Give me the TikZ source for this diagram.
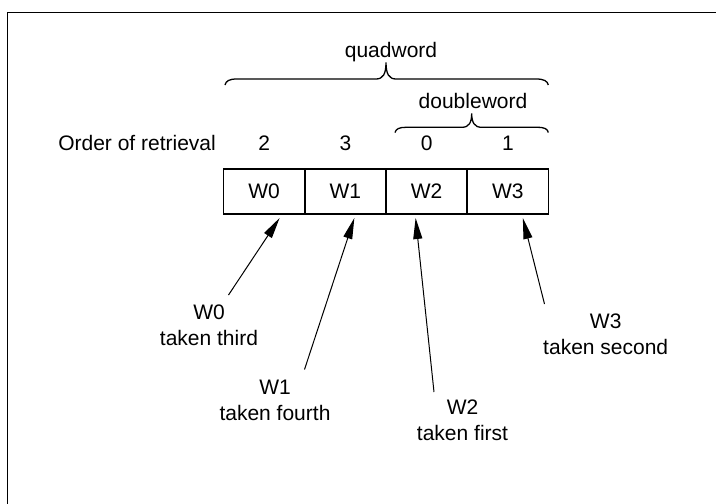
\documentclass[tikz,border=0pt]{standalone}
\usepackage{fontspec}
\setmainfont{Liberation Sans}
\usetikzlibrary{arrows.meta, positioning}

\begin{document}
\begin{tikzpicture}[
    x=1pt, y=-1pt,
    font=\fontsize{21}{26}\selectfont,
    cell/.style={
        rectangle,
        draw,
        line width=1.8pt,
        minimum width=81.25pt,
        minimum height=45pt,
        inner sep=0pt,
        outer sep=0pt
    },
    num/.style={inner sep=0pt},
    lbl/.style={align=center, inner sep=0pt},
    brace/.style={line width=1.3pt},
    arrow/.style={-{Triangle[length=21pt,width=9pt]}, line width=1pt}
]
\useasboundingbox (0,0) rectangle (716,504);

% Frame
\draw[line width=1.4pt] (7.7,504) -- (7.7,12.3) -- (716,12.3);

% Quadword in memory
\node[cell] (w0) at (264.1,191.5) {W0};
\node[cell, right=0pt of w0] (w1) {W1};
\node[cell, right=0pt of w1] (w2) {W2};
\node[cell, right=0pt of w2] (w3) {W3};

% Order of retrieval
\node[num, above=18pt of w0] (n2) {2};
\node[num, above=18pt of w1] (n3) {3};
\node[num, above=18pt of w2] (n0) {0};
\node[num, above=18pt of w3] (n1) {1};
\node[num, base left=42pt of n2] (order) {Order of retrieval};

% Braces
\draw[brace] (225,85) .. controls (226,81) and (229,79) .. (237,79)
    -- (376,79) .. controls (383,79) and (386,74) .. (386,62.5)
    .. controls (386,74) and (389,79) .. (396,79)
    -- (536,79) .. controls (544,79) and (547.5,81) .. (548.3,85);
\node[num, anchor=base] (quad) at (391,57) {quadword};

\draw[brace] (395,132.5) .. controls (396,129) and (399,127.3) .. (406,127.3)
    -- (462,127.3) .. controls (469,127.3) and (471.7,122.5) .. (471.7,113.3)
    .. controls (471.7,122.5) and (474.5,127.3) .. (481.5,127.3)
    -- (537,127.3) .. controls (545,127.3) and (547.5,129) .. (548.3,132.5);
\node[num, anchor=base] (dword) at (473,108) {doubleword};

% Labels below
\node[lbl] (l0) at (209,325) {W0\\taken third};
\node[lbl] (l1) at (275,400) {W1\\taken fourth};
\node[lbl] (l2) at (462.5,420) {W2\\taken first};
\node[lbl] (l3) at (605.7,334) {W3\\taken second};

\coordinate (b0) at (228.5,295);
\coordinate (b1) at (304.5,369.5);
\coordinate (b2) at (434,392);
\coordinate (b3) at (544.5,304);

% Arrows
\draw[arrow] (b0) -- ([xshift=15.5pt,yshift=-4pt]w0.south);
\draw[arrow] (b1) -- ([xshift=9pt,yshift=-4pt]w1.south);
\draw[arrow] (b2) -- ([xshift=-11pt,yshift=-4pt]w2.south);
\draw[arrow] (b3) -- ([xshift=15pt,yshift=-4pt]w3.south);

\end{tikzpicture}
\end{document}
